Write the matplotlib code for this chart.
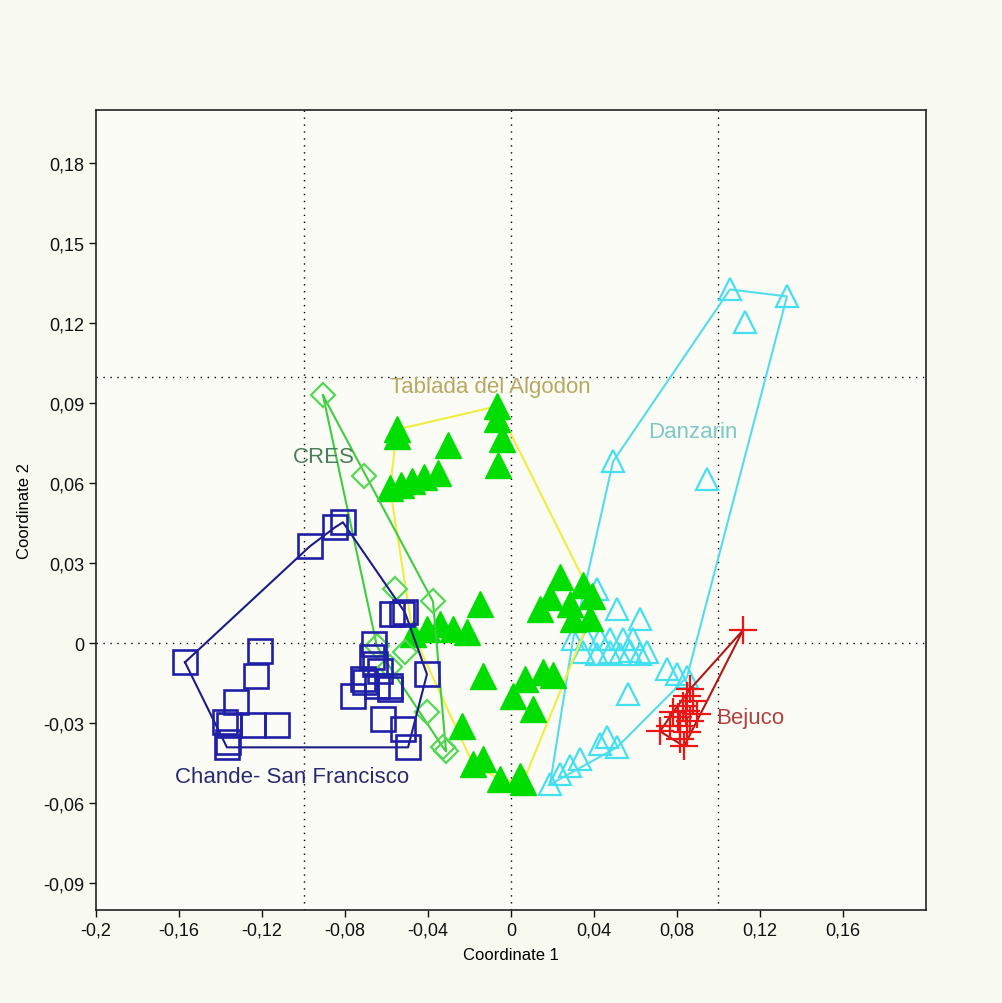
import numpy as np
import matplotlib.pyplot as plt
from matplotlib.ticker import FuncFormatter

# group data (Coordinate 1, Coordinate 2)
chande_x = [-0.1571, -0.1210, -0.1229, -0.1325, -0.1378, -0.1359, -0.1243, -0.1128,
            -0.1369, -0.0969, -0.0848, -0.0810, -0.0573, -0.0525, -0.0511, -0.0660,
            -0.0655, -0.0704, -0.0646, -0.0583, -0.0713, -0.0761, -0.0405, -0.0617,
            -0.0520, -0.0496, -0.0583, -0.0631, -0.0670, -0.1364]
chande_y = [-0.0071, -0.0030, -0.0124, -0.0221, -0.0296, -0.0307, -0.0307, -0.0307,
            -0.0390, 0.0364, 0.0435, 0.0454, 0.0109, 0.0109, 0.0116, -0.0004,
            -0.0079, -0.0146, -0.0161, -0.0161, -0.0135, -0.0199, -0.0116, -0.0285,
            -0.0322, -0.0390, -0.0172, -0.0105, -0.0052, -0.0370]

cres_x = [-0.0906, -0.0708, -0.0559, -0.0376, -0.0646, -0.0511, -0.0405, -0.0313,
          -0.0583, -0.0328]
cres_y = [0.0930, 0.0626, 0.0202, 0.0157, -0.0011, -0.0034, -0.0259, -0.0405,
          -0.0090, -0.0390]

tablada_x = [-0.0549, -0.0549, -0.0304, -0.0067, -0.0067, -0.0043, -0.0063, -0.0583,
             -0.0530, -0.0477, -0.0419, -0.0352, -0.0149, -0.0472, -0.0405, -0.0342,
             -0.0280, -0.0212, -0.0135, -0.0236, -0.0183, -0.0135, -0.0053, 0.0043,
             0.0058, 0.0010, 0.0106, 0.0067, 0.0154, 0.0202, 0.0236, 0.0347,
             0.0390, 0.0188, 0.0140, 0.0284, 0.0299, 0.0381]
tablada_y = [0.0802, 0.0776, 0.0742, 0.0889, 0.0840, 0.0765, 0.0667, 0.0581,
             0.0592, 0.0607, 0.0622, 0.0637, 0.0146, 0.0034, 0.0052, 0.0071,
             0.0052, 0.0041, -0.0124, -0.0311, -0.0454, -0.0435, -0.0510, -0.0499,
             -0.0521, -0.0199, -0.0247, -0.0135, -0.0109, -0.0120, 0.0247, 0.0217,
             0.0176, 0.0172, 0.0127, 0.0146, 0.0090, 0.0094]

danzarin_x = [0.1055, 0.1330, 0.1128, 0.0492, 0.0945, 0.0564, 0.0188, 0.0236,
              0.0284, 0.0333, 0.0429, 0.0463, 0.0511, 0.0752, 0.0800, 0.0848,
              0.0414, 0.0511, 0.0622, 0.0299, 0.0366, 0.0429, 0.0477, 0.0540,
              0.0588, 0.0347, 0.0414, 0.0477, 0.0525, 0.0573, 0.0622, 0.0655]
danzarin_y = [0.1327, 0.1301, 0.1204, 0.0682, 0.0615, -0.0191, -0.0529, -0.0491,
              -0.0461, -0.0435, -0.0379, -0.0352, -0.0390, -0.0097, -0.0116, -0.0127,
              0.0202, 0.0127, 0.0090, 0.0015, 0.0015, 0.0015, 0.0015, 0.0015,
              0.0015, -0.0034, -0.0041, -0.0034, -0.0041, -0.0030, -0.0041, -0.0034]

bejuco_x = [0.1118, 0.0863, 0.0848, 0.0877, 0.0829, 0.0896, 0.0781, 0.0766,
            0.0814, 0.0718, 0.0848, 0.0814, 0.0834, 0.0863, 0.0805, 0.0843]
bejuco_y = [0.0049, -0.0172, -0.0199, -0.0217, -0.0236, -0.0266, -0.0259, -0.0311,
            -0.0311, -0.0330, -0.0334, -0.0360, -0.0386, -0.0292, -0.0277, -0.0255]

x_ticks = [-0.2, -0.16, -0.12, -0.08, -0.04, 0, 0.04, 0.08, 0.12, 0.16]
y_ticks = [-0.09, -0.06, -0.03, 0, 0.03, 0.06, 0.09, 0.12, 0.15, 0.18]


def convex_hull(xs, ys):
    pts = sorted(set(zip(xs, ys)))

    def cross(o, a, b):
        return (a[0] - o[0]) * (b[1] - o[1]) - (a[1] - o[1]) * (b[0] - o[0])

    lower, upper = [], []
    for p in pts:
        while len(lower) >= 2 and cross(lower[-2], lower[-1], p) <= 0:
            lower.pop()
        lower.append(p)
    for p in reversed(pts):
        while len(upper) >= 2 and cross(upper[-2], upper[-1], p) <= 0:
            upper.pop()
        upper.append(p)
    h = lower[:-1] + upper[:-1]
    h.append(h[0])
    return [p[0] for p in h], [p[1] for p in h]


bg = '#f8faf0'
fig = plt.figure(figsize=(10.03, 10.04), dpi=100)
fig.patch.set_facecolor(bg)
ax = fig.add_axes([96 / 1003, 1 - 911 / 1004, 830 / 1003, 800 / 1004])
ax.set_facecolor('#fbfcf6')

ax.set_xlim(-0.2, 0.2)
ax.set_ylim(-0.1, 0.2)

for v in (-0.1, 0, 0.1):
    ax.axvline(v, color='k', ls=(0, (1, 4)), lw=1, zorder=1)
for v in (0, 0.1):
    ax.axhline(v, color='k', ls=(0, (1, 4)), lw=1, zorder=1)

groups = [
    (danzarin_x, danzarin_y, '#44e0f0', '#55dcec', '^', 16.5, 'none', 1.6),
    (tablada_x, tablada_y, '#00dd00', '#eeee40', '^', 19, '#00dd00', 1.0),
    (cres_x, cres_y, '#55d855', '#40cc40', 'D', 12, 'none', 1.6),
    (chande_x, chande_y, '#1f1fa8', '#1c1c88', 's', 17, 'none', 1.9),
    (bejuco_x, bejuco_y, '#ee1515', '#b01818', '+', 20, 'none', 1.6),
]
for i, (gx, gy, mc, lc, mk, ms, fc, mew) in enumerate(groups):
    hx, hy = convex_hull(gx, gy)
    ax.plot(hx, hy, color=lc, lw=1.5, zorder=2 + 2 * i)
    ax.plot(gx, gy, ls='none', marker=mk, ms=ms, mec=mc, mfc=fc, mew=mew,
            zorder=3 + 2 * i)

lab = dict(fontsize=16, family=['Liberation Sans', 'DejaVu Sans'], ha='left',
           va='center', zorder=20)
ax.text(-0.0583, 0.0964, 'Tablada del Algodon', color='#b8a862', **lab)
ax.text(-0.1051, 0.0701, 'CRES', color='#4a7d5a', **lab)
ax.text(0.0660, 0.0795, 'Danzarin', color='#7cc8c8', **lab)
ax.text(0.0988, -0.0277, 'Bejuco', color='#b04040', **lab)
ax.text(-0.1619, -0.0499, 'Chande- San Francisco', color='#2a2a70', **lab)

fmt = FuncFormatter(lambda v, _: '0' if abs(v) < 1e-9 else ('%g' % round(v, 2)).replace('.', ','))
ax.set_xticks(x_ticks)
ax.set_yticks(y_ticks)
ax.xaxis.set_major_formatter(fmt)
ax.yaxis.set_major_formatter(fmt)
ax.tick_params(direction='out', length=5, width=1, colors='#111111', labelsize=13)
for lbl in ax.get_xticklabels() + ax.get_yticklabels():
    lbl.set_family(['Liberation Sans', 'DejaVu Sans'])
for s in ax.spines.values():
    s.set_color('#222222')
    s.set_linewidth(1.2)

ax.set_xlabel('Coordinate 1', fontsize=12, family=['Liberation Sans Narrow', 'Liberation Sans'],
              labelpad=6)
ax.set_ylabel('Coordinate 2', fontsize=12, family=['Liberation Sans Narrow', 'Liberation Sans'],
              labelpad=8)

fig.savefig('out.png', dpi=100, facecolor=bg)
